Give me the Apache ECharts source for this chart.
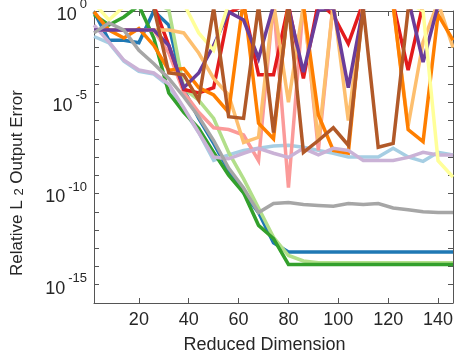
<!DOCTYPE html>
<html>
<head>
<meta charset="utf-8">
<script src="https://cdn.jsdelivr.net/npm/echarts@6/dist/echarts.min.js"></script>
<style>
  html, body { margin: 0; padding: 0; background: #fff; }
  #main { width: 454px; height: 360px; }
</style>
</head>
<body>
<div id="main"></div>
<script>
// reduced dimensions (x)
const dims = [2, 8, 14, 20, 26, 32, 38, 44, 50, 56, 62, 68, 74, 80, 86, 92, 98, 104, 110, 116, 122, 128, 134, 140, 146]

// relative L2 output error per method (values > 1 run off the top of the plot)
const lightBlue = [0.04, 0.018, 1.8e-3, 5e-4, 3.5e-4, 8e-5, 4e-6, 2.2e-7, 6.5e-9, 1.3e-8, 2.3e-8, 3e-8, 4e-8, 4.4e-8, 3.4e-8, 2.3e-8, 1.6e-8, 1e-8, 1e-8, 1e-8, 3e-8, 1e-8, 5.8e-9, 1.8e-8, 1.3e-8]
const blue = [0.89, 0.025, 0.025, 0.018, 1, 0.17, 5e-5, 1.3e-6, 5.6e-8, 1.8e-9, 1.1e-10, 9e-12, 2e-13, 6.3e-14, 6.3e-14, 6.3e-14, 6.3e-14, 6.3e-14, 6.3e-14, 6.3e-14, 6.3e-14, 6.3e-14, 6.3e-14, 6.3e-14, 6.3e-14]
const lightGreen = [3, 3, 3, 3, 3, 1.2, 5.9e-5, 1.3e-5, 1.3e-6, 1.8e-8, 6.3e-10, 1.6e-11, 4e-13, 4e-14, 2e-14, 1.6e-14, 1.6e-14, 1.6e-14, 1.6e-14, 1.6e-14, 1.6e-14, 1.6e-14, 1.6e-14, 1.6e-14, 1.6e-14]
const green = [0.63, 0.17, 0.47, 2, 0.033, 3.2e-5, 2.8e-6, 3.7e-7, 1.8e-8, 1e-9, 1.1e-10, 1.8e-12, 3.4e-13, 1.3e-14, 1.3e-14, 1.3e-14, 1.3e-14, 1.3e-14, 1.3e-14, 1.3e-14, 1.3e-14, 1.3e-14, 1.3e-14, 1.3e-14, 1.3e-14]
const pink = [0.091, 0.091, 0.091, 0.091, 0.091, 5e-3, 3.5e-5, 2.8e-6, 4e-7, 3.2e-7, 1.6e-7, 6.3e-9, 3, 2.1e-10, 3, 2.3e-8, 3, 3, 3, 3, 3, 3, 3, 3, 3]
const red = [3, 3, 3, 3, 2, 0.013, 5e-5, 3.2e-5, 6.3e-5, 0.78, 2, 3.2e-4, 3.2e-4, 2.1, 2e-4, 3, 0.6, 0.016, 3, 3, 2.5, 5.8e-4, 2.5, 3, 3]
const lightOrange = [0.091, 0.091, 0.091, 0.091, 0.091, 0.091, 0.063, 5e-3, 2e-4, 2.5e-5, 6.3e-8, 1.2e-7, 3, 1e-5, 2, 6.3e-8, 3, 1e-6, 3, 3, 2, 5e-7, 0.02, 3, 0.01]
const orange = [0.89, 0.091, 0.033, 0.11, 0.013, 5.6e-4, 7e-4, 6.3e-5, 2.5e-5, 2.8e-6, 5, 7e-7, 1e-7, 3, 2, 2e-6, 2.3e-8, 1.6e-8, 3, 3, 2, 3.2e-7, 7e-8, 0.63, 0.025]
const lightPurple = [0.17, 0.02, 2e-3, 5.8e-4, 4e-4, 1e-4, 5e-6, 2.2e-7, 1e-8, 8e-9, 1.6e-8, 3e-8, 1.6e-8, 9.5e-9, 3e-8, 1.3e-8, 3e-8, 2.3e-8, 6.5e-9, 6.5e-9, 6.5e-9, 9.5e-9, 1.8e-8, 1.3e-8, 1.3e-8]
const purple = [0.091, 0.091, 0.091, 0.091, 0.091, 0.013, 6.3e-5, 4e-4, 0.013, 0.89, 0.32, 2.5e-3, 2, 1.5, 4.5e-4, 1.1, 1.5, 6.3e-5, 1.5, 2, 2, 5, 1.6e-3, 2, 2]
const yellow = [2.7, 0.32, 1.8, 3, 3, 3, 2.5, 0.063, 7e-3, 2.5, 3, 3, 3, 3, 3, 3, 3, 3, 3, 3, 3, 3, 1, 6.3e-9, 8e-10]
const brown = [3, 3, 3, 3, 1.5, 4e-4, 3.2e-4, 1.3e-5, 1.5, 1.6e-6, 1.3e-6, 2, 2.2e-7, 2, 1.8e-8, 8e-8, 4e-7, 4.4e-8, 1.5, 3.4e-8, 5.6e-8, 1.2, 3, 3, 3]
const gray = [0.063, 0.22, 0.09, 7e-3, 1.3e-3, 2e-4, 2e-5, 1.6e-6, 8e-8, 2.5e-9, 2e-10, 9e-12, 2.8e-11, 3.2e-11, 2.5e-11, 2.2e-11, 2e-11, 2.8e-11, 2.5e-11, 2.8e-11, 1.6e-11, 1.3e-11, 1e-11, 9e-12, 9e-12]

// axis ticks
const xTicks = [20, 40, 60, 80, 100, 120, 140]
const yTicks = [1e-16, 1e-15, 1e-14, 1e-13, 1e-12, 1e-11, 1e-10, 1e-9, 1e-8, 1e-7, 1e-6, 1e-5, 1e-4, 1e-3, 1e-2, 1e-1, 1e0]
const yLabels = [1e-15, 1e-10, 1e-5, 1e0]

const lines = [
  { data: lightBlue, color: '#a6cee3' },
  { data: blue, color: '#1f78b4' },
  { data: lightGreen, color: '#b2df8a' },
  { data: green, color: '#33a02c' },
  { data: pink, color: '#fb9a99' },
  { data: red, color: '#e31a1c' },
  { data: lightOrange, color: '#fdbf6f' },
  { data: orange, color: '#ff7f00' },
  { data: lightPurple, color: '#cab2d6' },
  { data: purple, color: '#6a3d9a' },
  { data: yellow, color: '#ffff99' },
  { data: brown, color: '#b15928' },
  { data: gray, color: '#a6a6a6' }
]

const font = 'Liberation Sans, Arial, Helvetica, sans-serif'
const axisColor = '#555'
const textColor = '#262626'

const chart = echarts.init(document.getElementById('main'))

const frameX = (pos) => ({
  type: 'value',
  position: pos,
  min: 2,
  max: 146,
  axisLine: { show: true, onZero: false, lineStyle: { color: axisColor, width: 1 } },
  axisTick: { show: true, inside: true, length: 5, customValues: xTicks, lineStyle: { color: axisColor } },
  axisLabel: { show: false },
  splitLine: { show: false }
})
const frameY = (pos) => ({
  type: 'log',
  logBase: 10,
  position: pos,
  min: 1e-16,
  max: 1,
  axisLine: { show: true, onZero: false, lineStyle: { color: axisColor, width: 1 } },
  axisTick: { show: true, inside: true, length: 5, customValues: yTicks, lineStyle: { color: axisColor } },
  axisLabel: { show: false },
  splitLine: { show: false }
})

const xMain = frameX('bottom')
xMain.axisLabel = {
  show: true,
  customValues: xTicks,
  margin: 8,
  fontSize: 18,
  fontFamily: font,
  color: textColor
}
xMain.name = 'Reduced Dimension'
xMain.nameLocation = 'middle'
xMain.nameGap = 33
xMain.nameTextStyle = { fontSize: 18, fontFamily: font, color: textColor, padding: [0, 18, 0, 0] }

const yMain = frameY('left')
yMain.axisLabel = {
  show: true,
  customValues: yLabels,
  margin: 7,
  fontFamily: font,
  color: textColor,
  formatter: function (v) {
    const p = Math.round(Math.log10(v))
    return '{b|10}{e|' + p + '}'
  },
  rich: {
    b: { fontSize: 18, fontFamily: font, color: textColor, lineHeight: 26, verticalAlign: 'bottom' },
    e: { fontSize: 13, fontFamily: font, color: textColor, lineHeight: 15, verticalAlign: 'top', padding: [0, 0, 0, 3] }
  }
}
yMain.name = '{a|Relative L }{s|2}{a| Output Error}'
yMain.nameLocation = 'middle'
yMain.nameGap = 68
yMain.nameRotate = 90
yMain.nameTextStyle = {
  padding: [0, 52, 0, 0],
  rich: {
    a: { fontSize: 17, fontFamily: font, color: textColor, lineHeight: 17, verticalAlign: 'top' },
    s: { fontSize: 13, fontFamily: font, color: textColor, lineHeight: 14, verticalAlign: 'bottom', padding: [13, 0, 0, 0] }
  }
}

const option = {
  animation: false,
  backgroundColor: '#fff',
  grid: { left: 94, right: 1, top: 11, bottom: 57, containLabel: false, outerBoundsMode: 'none' },
  xAxis: [xMain, frameX('top')],
  yAxis: [yMain, frameY('right')],
  series: lines.map(function (l) {
    return {
      type: 'line',
      xAxisIndex: 0,
      yAxisIndex: 0,
      data: dims.map((d, i) => [d, l.data[i]]),
      showSymbol: false,
      clip: true,
      lineStyle: { color: l.color, width: 3.5, join: 'miter', miterLimit: 4 },
      itemStyle: { color: l.color }
    }
  })
}
chart.setOption(option)
</script>
</body>
</html>
